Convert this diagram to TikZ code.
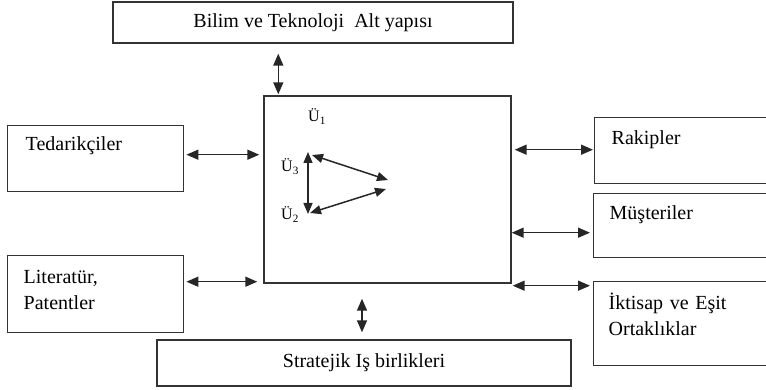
\documentclass[tikz,border=0pt]{standalone}
\usepackage{fontspec}
\setmainfont{Liberation Serif}
\usetikzlibrary{positioning,arrows.meta,calc}

\begin{document}
\begin{tikzpicture}[
  x=1pt, y=-1pt,
  >={Triangle[length=12pt,width=10pt]},
  font=\fontsize{20}{26}\selectfont,
  box/.style   = {draw=black!80, line width=1.4pt, rectangle, inner sep=0pt},
  band/.style  = {box, minimum height=41pt},
  side/.style  = {box, anchor=north west, align=left, inner xsep=17pt,
                  text width=#1},
  side/.default = 140pt,
  link/.style  = {<->, draw=black!85, line width=1.5pt},
  tri/.style   = {<->, draw=black!85, line width=1.5pt,
                  >={Triangle[length=11pt,width=9pt]}},
  ulab/.style  = {anchor=base west, inner sep=0pt,
                  font=\fontsize{16}{18}\selectfont},
]
\useasboundingbox (0,0) rectangle (766,390);

% Centre block with the three units
\node[box, minimum width=247pt, minimum height=187pt] (core) at (387.5,189.5) {};
\node[ulab] (u1) at (308,122) {Ü\textsubscript{1}};
\node[ulab] (u3) at (281,172) {Ü\textsubscript{3}};
\node[ulab] (u2) at (281,220) {Ü\textsubscript{2}};

% Top and bottom bands
\node[band, minimum width=400pt] (infra) at (313,22.5) {Bilim ve Teknoloji~~Alt yapısı};
\node[band, minimum width=414pt, minimum height=46pt] (allies) at (364,363) {Stratejik Iş birlikleri};

% Left boxes
\node[side=140pt, inner xsep=18pt, text height=25pt, text depth=41pt] (supp) at (7,125) {Tedarikçiler};
\node[side=144pt, inner xsep=16pt, text height=28pt, text depth=49pt] (lit) at (7,255) {Literatür,\\Patentler};

% Right boxes (run past the edge)
\node[side=152pt, text height=26.5pt, text depth=39.5pt] (rivals) at (594,117) {Rakipler};
\node[side=154pt, inner xsep=16pt, text height=25.5pt, text depth=38.5pt] (cust) at (593,193) {Müşteriler};
\node[side=156pt, inner xsep=15pt, text height=27.5pt, text depth=56.5pt] (acq) at (593,281) {İktisap ve Eşit\\Ortaklıklar};

% Links to the centre block
\draw[link, shorten <=10pt, shorten >=1pt] ($(core.north west |- infra.south)+(15,0)$) -- ($(core.north west)+(15,0)$);
\draw[link, shorten <=15pt, shorten >=7pt] ($(allies.north |- core.south)+(-2,0)$) -- ($(allies.north)+(-2,0)$);
\draw[link, shorten <=2pt, shorten >=4pt] ($(supp.east)+(0,-4)$) -- ($(core.west |- supp.east)+(0,-4)$);
\draw[link, shorten <=2pt, shorten >=6pt] ($(lit.east)+(0,-12.5)$) -- ($(core.west |- lit.east)+(0,-12.5)$);
\draw[link, shorten <=3pt, shorten >=1pt] ($(core.east |- rivals.west)+(0,-1)$) -- ($(rivals.west)+(0,-1)$);
\draw[link, shorten <=0pt, shorten >=3pt] ($(core.east |- cust.west)+(0,7)$) -- ($(cust.west)+(0,7)$);
\draw[link, shorten <=1pt, shorten >=3pt] ($(core.east |- acq.west)+(0,-38)$) -- ($(acq.west)+(0,-38)$);

% Triangle between the units
\coordinate (v3) at (308,152);
\coordinate (v2) at (308,214);
\coordinate (p3) at (312,155);
\coordinate (p2) at (310,213);
\coordinate (r1) at (388,180);
\coordinate (r2) at (386,189);
\draw[tri] (v3) -- (v2);
\draw[tri] (p3) -- (r1);
\draw[tri] (p2) -- (r2);
\end{tikzpicture}
\end{document}
